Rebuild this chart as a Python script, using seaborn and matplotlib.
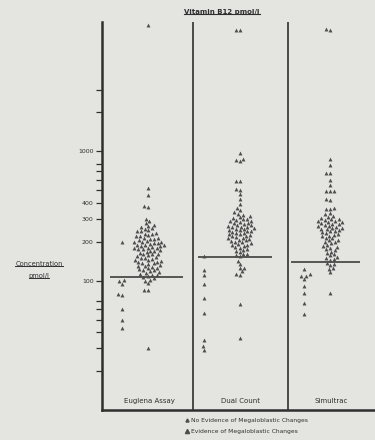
import matplotlib
matplotlib.use("Agg")
import matplotlib.pyplot as plt
import numpy as np
import pandas as pd
import seaborn as sns
from matplotlib.lines import Line2D

# ---- data (pmol/l) ----
methods = ["Euglena Assay", "Dual Count", "Simultrac"]

euglena_normal = [9500, 520, 460, 375, 370, 300, 290, 280, 270, 265, 260, 255, 250,
                  245, 240, 240, 235, 230, 228, 225, 220, 220, 215, 212, 210, 210,
                  205, 202, 200, 200, 198, 195, 195, 192, 190, 190, 188, 185, 185,
                  182, 180, 180, 178, 175, 175, 172, 170, 170, 168, 165, 162, 160,
                  160, 158, 155, 152, 150, 150, 148, 145, 145, 142, 140, 140, 138,
                  136, 135, 132, 130, 130, 128, 126, 125, 122, 120, 120, 118, 116,
                  115, 112, 110, 110, 108, 106, 104, 102, 100, 96, 85, 84, 30]
euglena_mega = [198, 101, 99, 95, 79, 78, 60, 50, 43]

dual_normal = [8700, 8600, 970, 870, 850, 840, 590, 585, 510, 505, 470, 425, 395,
               365, 350, 340, 330, 322, 315, 310, 305, 300, 298, 295, 290, 288,
               285, 280, 278, 275, 270, 268, 265, 262, 260, 258, 255, 252, 250,
               248, 245, 242, 240, 238, 235, 232, 230, 228, 225, 222, 220, 218,
               215, 212, 210, 208, 205, 202, 200, 198, 195, 192, 190, 188, 185,
               182, 180, 176, 172, 170, 166, 162, 160, 157, 154, 143, 135, 126,
               125, 118, 112, 111, 66, 36]
dual_mega = [156, 120, 111, 95, 74, 56, 35, 31, 29]

simultrac_normal = [8800, 8700, 866, 780, 680, 675, 603, 545, 495, 493, 490, 425,
                    420, 362, 360, 358, 333, 325, 318, 312, 305, 300, 298, 295,
                    290, 288, 285, 282, 280, 276, 272, 270, 266, 263, 260, 257,
                    255, 252, 250, 246, 242, 240, 236, 232, 230, 226, 222, 220,
                    215, 212, 208, 205, 200, 198, 194, 190, 186, 182, 180, 176,
                    172, 168, 165, 160, 157, 153, 150, 147, 145, 138, 135, 133,
                    126, 124, 116, 81]
simultrac_mega = [123, 113, 109, 108, 103, 91, 80, 67, 55]

cutoffs = [106, 153, 140]

major_ticks = [100, 200, 300, 400, 1000]
minor_ticks = [20, 30, 40, 50, 60, 70, 500, 600, 700, 800, 2000, 3000]
legend_labels = ["No Evidence of Megaloblastic Changes",
                 "Evidence of Megaloblastic Changes"]

# ---- layout ----
panel_edges = [0.0, 1.0, 2.044, 3.0]
mega_x = [0.22, 1.12, 2.22]
normal_x = [0.51, 1.516, 2.505]
cutoff_span = [(0.09, 0.89), (1.055, 1.87), (2.08, 2.84)]

rows = []
for m, vals in zip(methods, [euglena_normal, dual_normal, simultrac_normal]):
    rows += [(m, "normal", v) for v in vals]
for m, vals in zip(methods, [euglena_mega, dual_mega, simultrac_mega]):
    rows += [(m, "mega", v) for v in vals]
df = pd.DataFrame(rows, columns=["method", "group", "value"])

paper = "#e4e4e1"
ink = "#2f2f2f"
dot = "#4d4d4d"

fig = plt.figure(figsize=(3.75, 4.4), dpi=100, facecolor=paper)
ax = fig.add_axes([102 / 375, 30 / 440, 273 / 375, 388 / 440], facecolor=paper)
ax.set_yscale("log")
ax.set_ylim(10, 10000)
ax.set_xlim(0, 3)

for i, m in enumerate(methods):
    for grp, xs in (("normal", normal_x), ("mega", mega_x)):
        sub = df[(df.method == m) & (df.group == grp)].copy()
        sub["x"] = xs[i]
        sns.swarmplot(data=sub, x="x", y="value", native_scale=True, orient="x",
                      color=dot, marker="^", size=2.8, linewidth=0, ax=ax,
                      legend=False, warn_thresh=1)
    x0, x1 = cutoff_span[i]
    ax.plot([x0, x1], [cutoffs[i], cutoffs[i]], color=ink, lw=1.1, solid_capstyle="butt")

ax.set_xlim(0, 3)
ax.set_ylim(10, 10000)
for xe in panel_edges[1:3]:
    ax.axvline(xe, color=ink, lw=1.2)

for s in ["top", "right"]:
    ax.spines[s].set_visible(False)
for s in ["left", "bottom"]:
    ax.spines[s].set_color(ink)
    ax.spines[s].set_linewidth(1.8)

ax.set_xticks([])
ax.set_xlabel("")
ax.set_ylabel("")
ax.yaxis.set_major_locator(matplotlib.ticker.FixedLocator(major_ticks))
ax.yaxis.set_major_formatter(matplotlib.ticker.FixedFormatter([str(t) for t in major_ticks]))
ax.yaxis.set_minor_locator(matplotlib.ticker.FixedLocator(minor_ticks))
ax.yaxis.set_minor_formatter(matplotlib.ticker.NullFormatter())
ax.tick_params(axis="y", which="both", length=4, width=0.9, color=ink,
               labelsize=4.5, labelcolor=ink, pad=2)

# panel names
for i, m in enumerate(methods):
    ax.text((panel_edges[i] + panel_edges[i + 1]) / 2 + (0.0 if i else 0.02), 11.8, m,
            ha="center", va="center", fontsize=5, color=ink)

fig.canvas.draw()


def underline(t, lw=0.7):
    fig.canvas.draw()
    bb = t.get_window_extent()
    inv = fig.transFigure.inverted()
    (a, b), (c, d) = inv.transform([[bb.x0, bb.y0], [bb.x1, bb.y1]])
    fig.add_artist(Line2D([a, c], [b + 0.002, b + 0.002], transform=fig.transFigure,
                          color=ink, lw=lw))


title = fig.text(222 / 375, 1 - 12 / 440, "Vitamin B12 pmol/l", ha="center", va="center",
                 fontsize=5, fontweight="bold", color=ink)
underline(title, 0.8)
yl1 = fig.text(39 / 375, 1 - 264 / 440, "Concentration", ha="center", va="center",
               fontsize=4.8, color=ink)
underline(yl1)
yl2 = fig.text(39 / 375, 1 - 276 / 440, "pmol/l", ha="center", va="center",
               fontsize=4.8, color=ink)
underline(yl2)

handles = [Line2D([], [], ls="", marker="^", ms=2.2, color=dot),
           Line2D([], [], ls="", marker="^", ms=3.0, color=dot)]
fig.legend(handles, legend_labels, loc="upper left",
           bbox_to_anchor=(182 / 375, 1 - 415 / 440), frameon=False, fontsize=4.3,
           handlelength=0.6, handletextpad=0.4, labelspacing=1.0, borderpad=0,
           labelcolor=ink)

fig.savefig("out.png", dpi=100, facecolor=paper)
